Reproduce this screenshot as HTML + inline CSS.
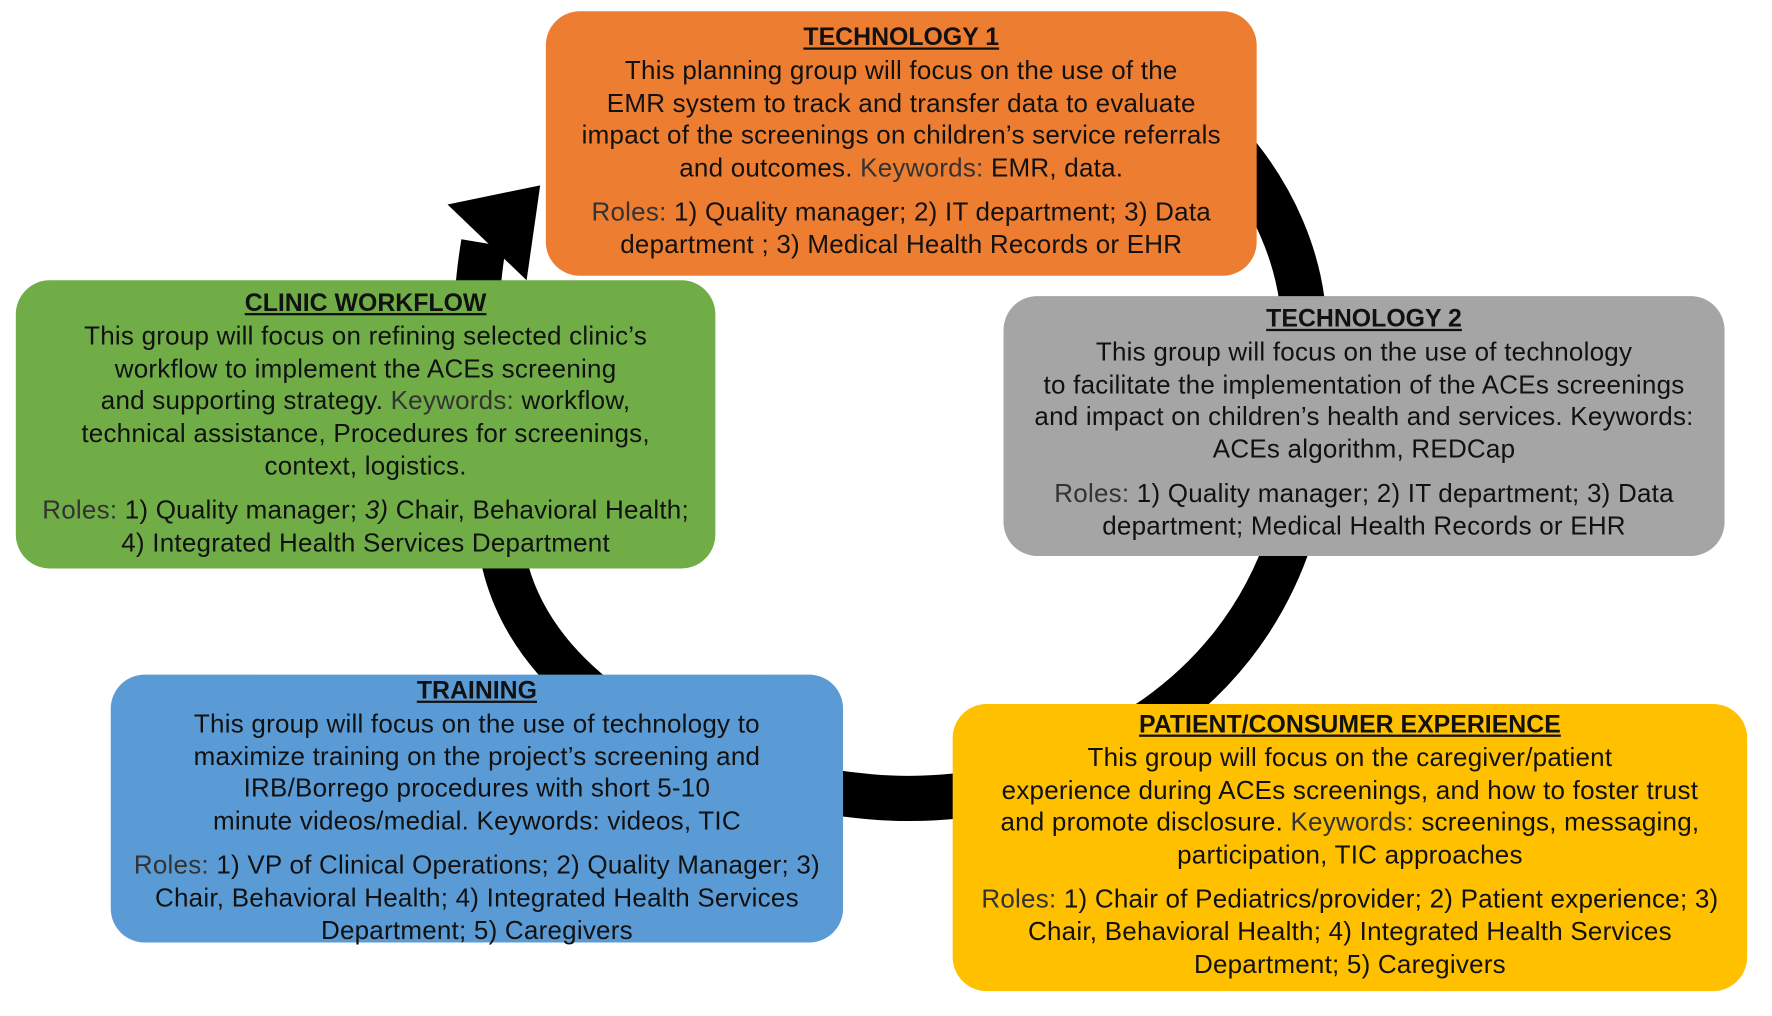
<!DOCTYPE html>
<html><head><meta charset="utf-8"><style>
html,body{margin:0;padding:0;background:#fff;width:1772px;height:1016px;overflow:hidden}
#w{position:absolute;left:0;top:0;width:1568px;height:899px;transform:scale(1.1301);transform-origin:0 0}
.b{position:absolute;border-radius:30px;text-align:center;font-family:"Liberation Sans",sans-serif;font-size:23px;letter-spacing:0.2px;line-height:28.8px;color:#111;box-sizing:border-box;white-space:nowrap}
.t{font-weight:bold;text-decoration:underline;font-size:22px;letter-spacing:0}
.k{color:#333}
.r{margin-top:10px}
svg{position:absolute;left:0;top:0}
</style></head><body><div id="w">
<svg width="1568" height="899" viewBox="0 0 1568 899">
<path d="M 1000,60 C 1080,100 1140,180 1152,265 C 1178,400 1150,560 1000,650 C 930,695 850,712 770,705 C 620,692 480,620 448,505 C 425,420 412,310 428,215" fill="none" stroke="#000" stroke-width="40"/>
<polygon points="478,164 396,181 466,248" fill="#000"/>
</svg>
<div class="b" style="left:483px;top:10px;width:629px;height:234px;background:#ED7D31;padding-top:9px">
<div class="t">TECHNOLOGY 1</div>
This planning group will focus on the use of the<br>EMR system to track and transfer data to evaluate<br>impact of the screenings on children’s service referrals<br>and outcomes. <span class="k">Keywords:</span> EMR, data.
<div class="r"><span class="k">Roles:</span> 1) Quality manager; 2) IT department; 3) Data<br>department ; 3) Medical Health Records or EHR</div></div>
<div class="b" style="left:14px;top:248px;width:619px;height:255px;background:#70AD47;padding-top:6px">
<div class="t">CLINIC WORKFLOW</div>
This group will focus on refining selected clinic’s<br>workflow to implement the ACEs screening<br>and supporting strategy. <span class="k">Keywords:</span> workflow,<br>technical assistance, Procedures for screenings,<br>context, logistics.
<div class="r"><span class="k">Roles:</span> 1) Quality manager; <i>3)</i> Chair, Behavioral Health;<br>4) Integrated Health Services Department</div></div>
<div class="b" style="left:888px;top:262px;width:638px;height:230px;background:#A5A5A5;padding-top:6px">
<div class="t">TECHNOLOGY 2</div>
This group will focus on the use of technology<br>to facilitate the implementation of the ACEs screenings<br>and impact on children’s health and services. Keywords:<br>ACEs algorithm, REDCap
<div class="r"><span class="k">Roles:</span> 1) Quality manager; 2) IT department; 3) Data<br>department; Medical Health Records or EHR</div></div>
<div class="b" style="left:98px;top:597px;width:648px;height:237px;background:#5B9BD5;padding-top:0px">
<div class="t">TRAINING</div>
This group will focus on the use of technology to<br>maximize training on the project’s screening and<br>IRB/Borrego procedures with short 5-10<br>minute videos/medial. Keywords: videos, TIC
<div class="r"><span class="k">Roles:</span> 1) VP of Clinical Operations; 2) Quality Manager; 3)<br>Chair, Behavioral Health; 4) Integrated Health Services<br>Department; 5) Caregivers</div></div>
<div class="b" style="left:843px;top:623px;width:703px;height:254px;background:#FFC000;padding-top:4px">
<div class="t">PATIENT/CONSUMER EXPERIENCE</div>
This group will focus on the caregiver/patient<br>experience during ACEs screenings, and how to foster trust<br>and promote disclosure. <span class="k">Keywords:</span> screenings, messaging,<br>participation, TIC approaches
<div class="r"><span class="k">Roles:</span> 1) Chair of Pediatrics/provider; 2) Patient experience; 3)<br>Chair, Behavioral Health; 4) Integrated Health Services<br>Department; 5) Caregivers</div></div>
</div></body></html>
